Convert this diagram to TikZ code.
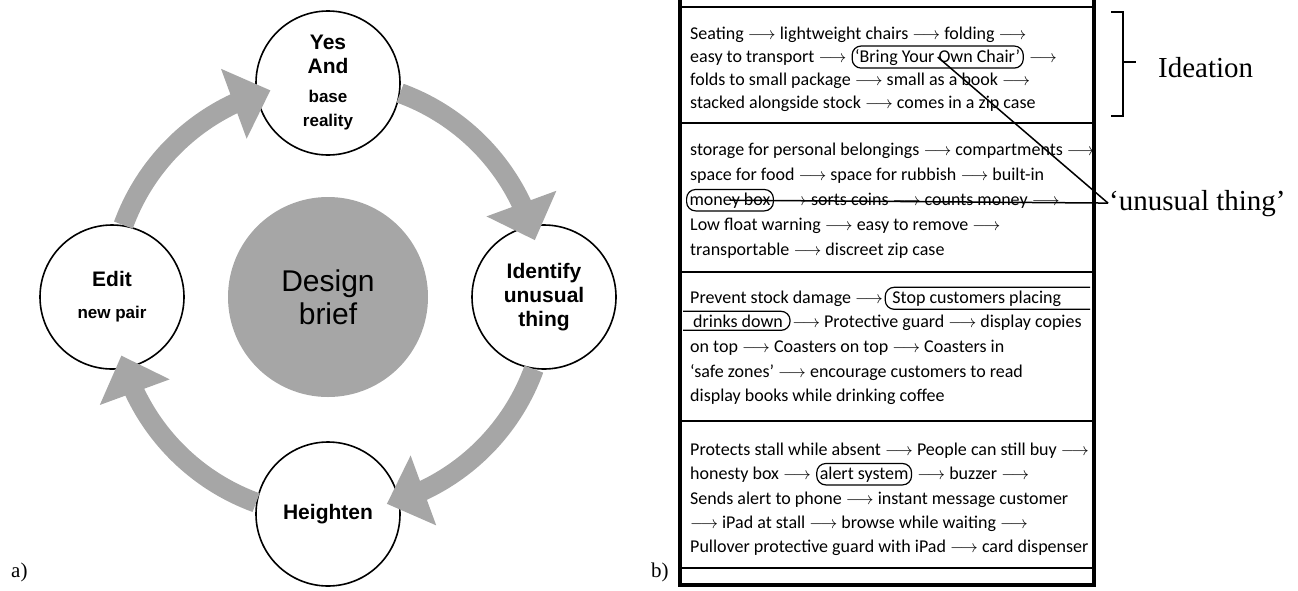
\documentclass[tikz,border=0pt]{standalone}
\usepackage{fontspec}
\setmainfont{Liberation Serif}
\newfontfamily\arialfont{Liberation Sans}
\newfontfamily\handfont{Carlito}
\usetikzlibrary{arrows.meta,bending,positioning,shapes.geometric}
\definecolor{cycgray}{RGB}{166,166,166}
\newcommand{\too}{$\longrightarrow$}
\newcommand{\subsize}{\fontsize{17}{20}\selectfont}

\begin{document}
\begin{tikzpicture}[x=1pt, y=-1pt]
\tikzstyle{stage} = [circle, draw=black, line width=1.6pt, fill=white, minimum size=144pt, inner sep=0pt, align=center, font=\arialfont\bfseries\fontsize{21}{24}\selectfont]
\tikzstyle{core} = [circle, fill=cycgray, minimum size=200pt, inner sep=0pt, align=center, font=\arialfont\fontsize{30}{33}\selectfont]
\tikzstyle{cyc} = [draw=cycgray, line width=20pt, -{Triangle[length=39pt, width=72pt, flex]}]
\tikzstyle{hand} = [inner sep=0pt, anchor=base west, font=\handfont\fontsize{18}{20}\selectfont]
\tikzstyle{oval} = [draw, line width=1.2pt, rounded corners=9pt, inner sep=3pt]
\tikzstyle{tag} = [inner sep=1pt, anchor=base west, font=\fontsize{29}{32}\selectfont]
\useasboundingbox (0,0) rectangle (1298,590);

% a) the cycle
\path
    (328,297) node[core] (brief) {Design\\brief}
    (328,83) node[stage] (yes) {Yes\\And\\[5pt]\subsize base\\\subsize reality}
    (544,297) node[stage] (ident) {Identify\\unusual\\thing}
    (328,514) node[stage] (heighten) {Heighten}
    (112,297) node[stage] (edit) {Edit\\[8pt]\subsize new pair};

\draw [cyc] (yes.-8.5) arc[start angle=70, delta angle=-55, radius=216pt];
\draw [cyc] (ident.-98.5) arc[start angle=-20, delta angle=-55, radius=216pt];
\draw [cyc] (heighten.171.5) arc[start angle=-110, delta angle=-55, radius=216pt];
\draw [cyc] (edit.81.5) arc[start angle=160, delta angle=-55, radius=216pt];

% b) the notes
\draw[line width=4pt] (680,0) -- (680,585) -- (1094,585) -- (1094,0);
\foreach \y in {7,123,272,421,568}
    \draw[line width=2pt] (680,\y) -- (1094,\y);
\coordinate (boxR) at (1090,0);
\coordinate (boxL) at (683,0);

\path
    (690,39) node[hand] (s1a) {Seating \too\ lightweight chairs \too\ folding \too}
    (690,62) node[hand] (s1b) {easy to transport \too}
    (s1b.base east) node[hand, oval, xshift=5pt] (byoc) {‘Bring Your Own Chair’}
    (byoc.base east) node[hand, xshift=5pt] (s1b2) {\too}
    (690,85) node[hand] (s1c) {folds to small package \too\ small as a book \too}
    (690,108) node[hand] (s1d) {stacked alongside stock \too\ comes in a zip case};

\path
    (690,155) node[hand] (s2a) {storage for personal belongings \too\ compartments \too}
    (690,180) node[hand] (s2b) {space for food \too\ space for rubbish \too\ built-in}
    (686,205) node[hand, oval] (money) {money box}
    (money.base east) node[hand, xshift=5pt] (s2c) {\too\ sorts coins \too\ counts money \too}
    (690,230) node[hand] (s2d) {Low float warning \too\ easy to remove \too}
    (690,255) node[hand] (s2e) {transportable \too\ discreet zip case};

\path
    (690,303) node[hand] (s3a) {Prevent stock damage \too}
    (s3a.base east) node[hand, inner sep=3pt, xshift=6pt] (stop) {Stop customers placing}
    (690,327) node[hand, inner sep=3pt] (drinks) {drinks down}
    (drinks.base east) node[hand, xshift=6pt] (s3b) {\too\ Protective guard \too\ display copies}
    (690,352) node[hand] (s3c) {on top \too\ Coasters on top \too\ Coasters in}
    (690,377) node[hand] (s3d) {‘safe zones’ \too\ encourage customers to read}
    (690,401) node[hand] (s3e) {display books while drinking coffee};
\draw[line width=1.2pt, rounded corners=9pt] (stop.north -| boxR) -- ([xshift=-4pt]stop.north west) -- ([xshift=-4pt]stop.south west) -- (stop.south -| boxR);
\draw[line width=1.2pt, rounded corners=9pt] (drinks.north -| boxL) -- ([xshift=4pt]drinks.north east) -- ([xshift=4pt]drinks.south east) -- (drinks.south -| boxL);

\path
    (690,455) node[hand] (s4a) {Protects stall while absent \too\ People can still buy \too}
    (690,479) node[hand] (s4b) {honesty box \too}
    (s4b.base east) node[hand, oval, xshift=5pt] (alert) {alert system}
    (alert.base east) node[hand, xshift=5pt] (s4b2) {\too\ buzzer \too}
    (690,504) node[hand] (s4c) {Sends alert to phone \too\ instant message customer}
    (690,528) node[hand] (s4d) {\too\ iPad at stall \too\ browse while waiting \too}
    (690,552) node[hand] (s4e) {Pullover protective guard with iPad \too\ card dispenser};

% labels
\draw[line width=2pt] (1111,12) -- (1123,12) -- (1123,116) -- (1111,116);
\draw[line width=2pt] (1123,62) -- (1136,62);
\path
    (1157,77) node[tag] (ideation) {Ideation}
    (1108,210) node[tag] (unusual) {‘unusual thing’}
    (10,577) node[tag, font=\fontsize{21}{24}\selectfont] (parta) {a)}
    (650,577) node[tag, font=\fontsize{21}{24}\selectfont] (partb) {b)};

\draw[line width=1.5pt] (unusual.west) -- (byoc.center);
\draw[line width=1.5pt] (unusual.west) -- (money.center);
\end{tikzpicture}
\end{document}
